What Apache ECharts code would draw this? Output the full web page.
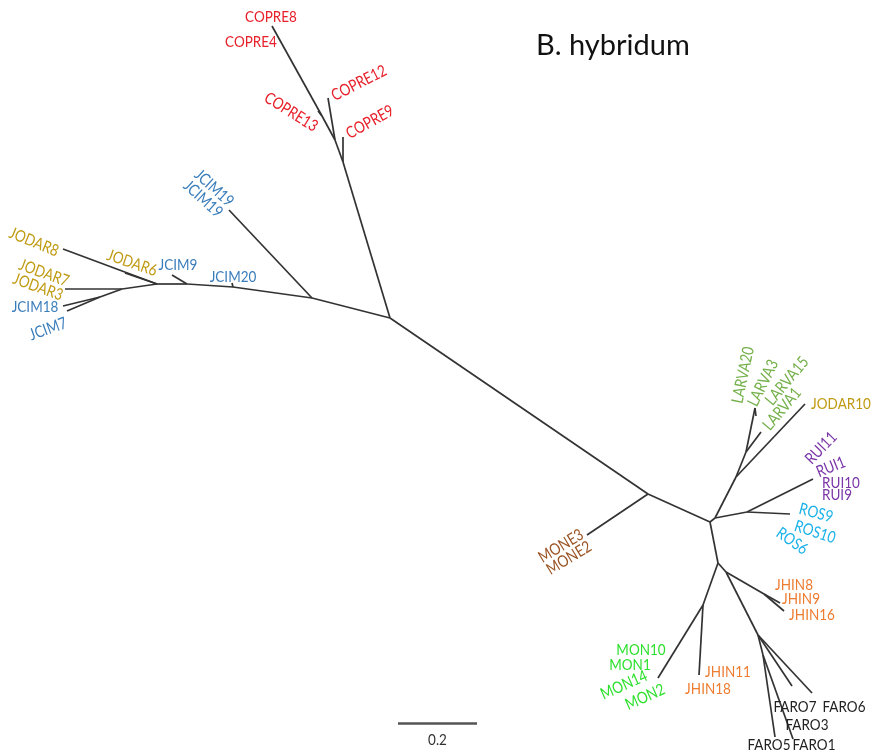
<!DOCTYPE html>
<html>
<head>
<meta charset="utf-8">
<script src="https://cdn.jsdelivr.net/npm/echarts@6/dist/echarts.min.js"></script>
<style>
  html, body { margin: 0; padding: 0; background: #fff; }
  #chart { width: 873px; height: 756px; }
</style>
</head>
<body>
<div id="chart"></div>
<script>
// Unrooted tree layout: node positions in plot units, edges as parent/child pairs.
const nodeNames = [
  'c0','m0','r0','j0','j1','j2','j3','j4','j5','p0','p1','p2',
  'r1','s0','l0','l1','d0','d1','dm','dh','df','df2',
  't_COPRE8','t_COPRE12','t_COPRE9','t_COPRE13',
  't_JCIM19','t_JCIM20','t_JCIM9','t_JODAR8','t_JODAR6','t_JODAR3','t_JCIM18','t_JCIM7',
  't_MONE','t_RUI','t_ROS9','t_JODAR10','t_LARVA1','t_LARVA20','t_LARVA3',
  't_MON','t_JHIN11','t_JHIN8','t_JHIN16','t_FARO6','t_FARO7','t_FARO5','t_FARO1'
];
const nodeX = [
  390,648,710,312,233,187,157,122,100,343,335,322,
  715,747,736,746,718,726,703,764,758,763,
  272,328,343,318,
  229,232,172,63,125,65,63,67,
  587,813,790,805,761,755,756,
  658,699,780,784,812,792,775,793
];
const nodeY = [
  318,494,522,298,287,284,284,289,297,162,140,116,
  518,512,477,452,563,572,605,594,635,655,
  26,98,137,111,
  210,283,275,249,273,289,306,311,
  535,479,514,404,432,408,416,
  678,675,603,611,693,686,737,739
];
const edges = [
  ['c0','m0'],['m0','r0'],['m0','t_MONE'],
  ['c0','j0'],['j0','t_JCIM19'],['j0','j1'],['j1','t_JCIM20'],['j1','j2'],['j2','t_JCIM9'],
  ['j2','j3'],['j3','t_JODAR8'],['j3','t_JODAR6'],['j3','j4'],['j4','t_JODAR3'],['j4','j5'],
  ['j5','t_JCIM18'],['j5','t_JCIM7'],
  ['c0','p0'],['p0','t_COPRE9'],['p0','p1'],['p1','t_COPRE12'],['p1','p2'],['p2','t_COPRE13'],['p2','t_COPRE8'],
  ['r0','r1'],['r1','s0'],['s0','t_RUI'],['s0','t_ROS9'],
  ['r1','l0'],['l0','t_JODAR10'],['l0','l1'],['l1','t_LARVA1'],['l1','t_LARVA20'],['t_LARVA20','t_LARVA3'],
  ['r0','d0'],['d0','dm'],['dm','t_MON'],['dm','t_JHIN11'],
  ['d0','d1'],['d1','dh'],['dh','t_JHIN8'],['dh','t_JHIN16'],
  ['d1','df'],['df','t_FARO6'],['df','t_FARO7'],['df','df2'],['df2','t_FARO5'],['df2','t_FARO1']
];

// Tip labels: text, group, label centre and angle.
const tipNames = [
  'COPRE8','COPRE4','COPRE12','COPRE9','COPRE13',
  'JCIM19','JCIM19','JODAR8','JODAR6','JCIM9','JCIM20','JODAR7','JODAR3','JCIM18','JCIM7',
  'MONE3','MONE2',
  'LARVA20','LARVA3','LARVA15','LARVA1','JODAR10',
  'RUI11','RUI1','RUI10','RUI9','ROS9','ROS10','ROS6',
  'JHIN8','JHIN9','JHIN16','MON10','MON1','MON14','MON2','JHIN11','JHIN18',
  'FARO7','FARO6','FARO3','FARO5','FARO1'
];
const tipGroup = [
  'COPRE','COPRE','COPRE','COPRE','COPRE',
  'JCIM','JCIM','JODAR','JODAR','JCIM','JCIM','JODAR','JODAR','JCIM','JCIM',
  'MONE','MONE',
  'LARVA','LARVA','LARVA','LARVA','JODAR',
  'RUI','RUI','RUI','RUI','ROS','ROS','ROS',
  'JHIN','JHIN','JHIN','MON','MON','MON','MON','JHIN','JHIN',
  'FARO','FARO','FARO','FARO','FARO'
];
const tipX = [
  271,251,359,370,291,
  214,203,34,132,178,233,44,38,35,48,
  561,569,
  743,763,787,782,841,
  821,831,841,837,816,815,792,
  794,801,812,641,630,624,645,728,708,
  795,844,807,769,814
];
const tipY = [
  17,42,83,122,112,
  188,199,242,263,265,277,273,287,307,329,
  546,558,
  375,383,381,409,404,
  448,467,483,495,513,532,541,
  585,599,615,650,665,685,697,672,689,
  707,707,725,745,745
];
const tipAngle = [
  0,0,27,29,-32,
  -42,-42,-22,-19,0,0,-20,-20,0,20,
  31,31,
  78,64,50,50,0,
  46,22,0,0,-15,-18,-35,
  0,0,0,0,0,24,24,0,0,
  0,0,0,0,0
];

const groupColors = {
  COPRE: '#e8202a', JCIM: '#3a7dbb', JODAR: '#c09a12', MONE: '#9a5424',
  LARVA: '#74b04a', RUI: '#7a35a8', ROS: '#1ab2e8', JHIN: '#ee7c30',
  MON: '#2ee02e', FARO: '#222222'
};

// Scale bar: 0.2 substitutions per site.
const scaleValue = 0.2;
const unitsPerSubst = 395;
const scaleStart = [398, 723];

const LABEL_FONT = '13.5px Lato';
const LABEL_STRETCH = 1.2;

const idx = {};
nodeNames.forEach((n, i) => { idx[n] = i; });
const pt = n => [nodeX[idx[n]], nodeY[idx[n]]];

const edgeData = edges.map(([a, b]) => ({ coords: [pt(a), pt(b)] }));
const labelData = tipNames.map((name, i) => [tipX[i], tipY[i]]);
const scaleEnd = [scaleStart[0] + scaleValue * unitsPerSubst, scaleStart[1]];

function textItem(p, text, angle, color) {
  return {
    type: 'text',
    x: p[0], y: p[1],
    rotation: angle * Math.PI / 180,
    scaleX: 1, scaleY: LABEL_STRETCH,
    style: { text: text, fill: color, font: LABEL_FONT, align: 'center', verticalAlign: 'middle' }
  };
}

const chart = echarts.init(document.getElementById('chart'));
chart.setOption({
  animation: false,
  backgroundColor: '#ffffff',
  title: {
    text: 'B. hybridum',
    left: 531, top: 26,
    textStyle: { fontFamily: 'Lato', fontWeight: 'normal', fontSize: 29, color: '#111' }
  },
  grid: { left: 0, right: 0, top: 0, bottom: 0 },
  xAxis: { type: 'value', min: 0, max: 873, show: false },
  yAxis: { type: 'value', min: 0, max: 756, inverse: true, show: false },
  series: [
    {
      type: 'lines',
      coordinateSystem: 'cartesian2d',
      polyline: false,
      silent: true,
      lineStyle: { color: '#333333', width: 1.7, opacity: 1, curveness: 0 },
      data: edgeData
    },
    {
      type: 'lines',
      coordinateSystem: 'cartesian2d',
      silent: true,
      lineStyle: { color: '#555', width: 2.5, opacity: 1 },
      data: [{ coords: [scaleStart, scaleEnd] }]
    },
    {
      type: 'custom',
      coordinateSystem: 'cartesian2d',
      silent: true,
      data: labelData,
      renderItem: function (params, api) {
        const i = params.dataIndex;
        const p = api.coord([api.value(0), api.value(1)]);
        return textItem(p, tipNames[i], tipAngle[i], groupColors[tipGroup[i]]);
      }
    },
    {
      type: 'custom',
      coordinateSystem: 'cartesian2d',
      silent: true,
      data: [[(scaleStart[0] + scaleEnd[0]) / 2, scaleStart[1] + 17]],
      renderItem: function (params, api) {
        const p = api.coord([api.value(0), api.value(1)]);
        return textItem(p, String(scaleValue), 0, '#333');
      }
    }
  ]
});
</script>
</body>
</html>
